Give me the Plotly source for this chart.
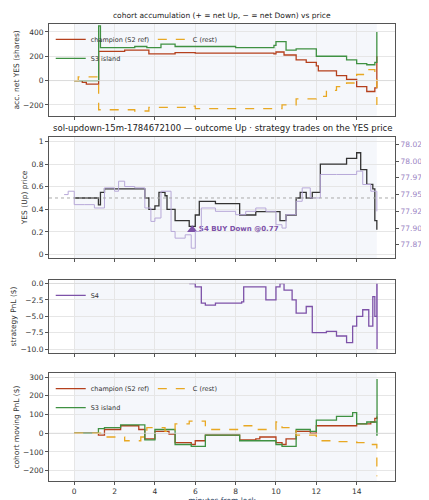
import plotly.graph_objects as go

# ---- data ----
acc_ch_t = [0, 0.4, 0.6, 1.2, 1.21, 2.5, 3.6, 3.7, 5.0, 6.0, 9.9, 10.0, 10.4, 11.0, 11.5, 12.0, 12.1, 13.0, 13.5, 14.0, 14.5, 14.9, 15.0]
acc_ch_v = [0, -15, -30, -30, 240, 250, 250, 220, 230, 225, 220, 235, 210, 170, 150, 120, 80, 40, 10, -50, -90, -60, 200]
acc_s3_t = [0, 1.2, 1.21, 1.3, 3.0, 3.6, 4.3, 5.0, 8.0, 9.9, 10.0, 10.5, 11.0, 12.0, 13.5, 14.0, 14.5, 14.9, 15.0]
acc_s3_v = [0, 0, 450, 270, 280, 270, 300, 280, 270, 290, 320, 250, 260, 200, 170, 140, 130, 150, 400]
acc_c_t = [0, 0.2, 1.2, 1.21, 3.0, 3.7, 5.7, 6.0, 10.3, 11.0, 12.0, 12.5, 13.0, 13.5, 14.0, 14.5, 14.9, 15.0]
acc_c_v = [0, 30, 30, -240, -250, -220, -210, -230, -200, -150, -130, -80, -50, -20, 50, 90, 60, -200]

yes_t = [0, 1.1, 1.2, 1.3, 1.5, 3.0, 3.5, 3.7, 4.0, 4.2, 4.5, 4.6, 5.0, 5.7, 6.0, 6.2, 7.0, 8.2, 8.8, 9.0, 10.0, 10.2, 10.5, 11.0, 11.2, 11.5, 11.8, 12.2, 13.0, 13.5, 14.0, 14.2, 14.5, 14.8, 14.9, 15.0]
yes_v = [0.5, 0.5, 0.44, 0.55, 0.58, 0.58, 0.5, 0.4, 0.43, 0.55, 0.52, 0.4, 0.3, 0.25, 0.35, 0.47, 0.45, 0.35, 0.35, 0.38, 0.38, 0.3, 0.35, 0.5, 0.55, 0.5, 0.55, 0.8, 0.8, 0.85, 0.9, 0.75, 0.62, 0.58, 0.3, 0.22]
sol_t = [-0.5, -0.3, 0, 0.5, 1.0, 1.5, 2.0, 2.2, 2.5, 3.0, 3.5, 3.8, 4.0, 4.3, 4.8, 5.0, 5.5, 5.8, 6.0, 6.3, 7.0, 8.0, 8.5, 9.0, 9.5, 10.0, 10.3, 10.5, 11.0, 11.3, 11.7, 12.2, 13.0, 14.0, 14.3, 14.7, 15.0]
sol_v = [77.95, 77.955, 77.935, 77.935, 77.93, 77.96, 77.955, 77.97, 77.962, 77.96, 77.93, 77.91, 77.915, 77.955, 77.895, 77.885, 77.89, 77.87, 77.895, 77.93, 77.925, 77.92, 77.925, 77.93, 77.925, 77.905, 77.9, 77.92, 77.94, 77.96, 77.945, 77.98, 77.98, 77.985, 77.965, 77.955, 77.925]
trade_t = [5.85]
trade_p = [0.22]
trade_lbl = ["S4 BUY Down @0.77"]

s4_t = [5.7, 6.0, 6.3, 6.5, 7.0, 8.3, 8.4, 9.0, 9.5, 10.0, 10.2, 10.4, 10.8, 11.0, 11.5, 11.8, 12.5, 13.0, 13.5, 13.8, 14.0, 14.3, 14.6, 14.8, 14.9, 15.0, 15.01]
s4_v = [0, -0.5, -3, -3.3, -3, -2.8, -0.5, -0.5, -2.5, -0.5, 0, -1, -2.5, -4.5, -3.5, -7.5, -7.3, -8, -9, -6.5, -5, -4, -6.5, -2, -5, 0, -10]

pnl_ch_t = [0, 1.2, 1.5, 2.3, 3.2, 3.5, 4.0, 4.7, 5.0, 5.8, 6.0, 6.5, 8.2, 9.0, 9.2, 10.0, 10.3, 10.5, 11.0, 11.7, 12.0, 13.0, 14.0, 14.7, 14.9, 15.0]
pnl_ch_v = [0, -10, 20, 40, 20, -30, 10, -5, -50, -60, -40, -10, -35, -30, -20, -50, -60, -30, 10, 0, 40, 40, 50, 60, 80, 90]
pnl_s3_t = [0, 1.2, 1.5, 2.3, 3.5, 4.0, 5.0, 5.8, 6.5, 8.2, 10.0, 10.3, 11.0, 11.7, 12.0, 13.0, 13.8, 14.0, 14.5, 15.0, 15.01]
pnl_s3_v = [0, 25, 30, 45, -35, 20, -60, -70, -10, -40, -60, -70, 20, 10, 70, 90, 110, 50, 60, -10, 290]
pnl_c_t = [0, 1.5, 2.5, 3.3, 3.6, 4.5, 5.0, 5.7, 6.5, 8.0, 8.2, 9.0, 10.0, 10.3, 11.0, 12.0, 13.0, 14.0, 14.7, 15.0]
pnl_c_v = [0, -20, -40, -20, 30, 10, 50, 65, 20, 20, 40, 20, 60, 30, -10, -40, -45, -50, -60, -230]

RUST, GREEN, GOLD, PURPLE, LAV = "#b5401d", "#3f9142", "#e8a823", "#7d52a8", "#b7a8d8"
F = "DejaVu Sans"
fig = go.Figure()

def step(x, y, color, name, xa, ya, legend=None, dash="solid", show=True, width=1.3):
    fig.add_trace(go.Scatter(x=x, y=y, mode="lines", line=dict(color=color, width=width, dash=dash, shape="hv"),
                             name=name, xaxis=xa, yaxis=ya, showlegend=show and legend is not None,
                             legend=legend or "legend"))

step(acc_ch_t, acc_ch_v, RUST, "champion (S2 ref)", "x", "y", "legend")
step(acc_s3_t, acc_s3_v, GREEN, "S3 island", "x", "y", "legend")
step(acc_c_t, acc_c_v, GOLD, "C (rest)", "x", "y", "legend4", dash="dash")

step(sol_t, sol_v, LAV, "SOL", "x2", "y5", None, width=1)
step(yes_t, yes_v, "#333333", "YES", "x2", "y2", None, width=1.3)
fig.add_trace(go.Scatter(x=trade_t, y=trade_p, mode="markers+text", marker=dict(symbol="triangle-up", size=9, color=PURPLE),
                         text=trade_lbl, textposition="middle right", textfont=dict(color=PURPLE, size=7, family=F, weight="bold"),
                         xaxis="x2", yaxis="y2", showlegend=False))

step(s4_t, s4_v, PURPLE, "S4", "x3", "y3", "legend2")

step(pnl_ch_t, pnl_ch_v, RUST, "champion (S2 ref)", "x4", "y4", "legend3")
step(pnl_s3_t, pnl_s3_v, GREEN, "S3 island", "x4", "y4", "legend3")
step(pnl_c_t, pnl_c_v, GOLD, "C (rest)", "x4", "y4", "legend5", dash="dash")

doms = {1: [0.799, 1.0], 2: [0.488, 0.753], 3: [0.28, 0.44], 4: [0.0, 0.236]}
yr = {1: [-290, 465], 2: [-0.03, 1.04], 3: [-10.6, 0.55], 4: [-255, 321]}
ytit = {1: "acc. net YES (shares)", 2: "YES (Up) price", 3: "strategy PnL ($)", 4: "cohort moving PnL ($)"}
ytv = {1: [-200, 0, 200, 400], 2: [0, 0.2, 0.4, 0.6, 0.8, 1.0], 3: [-10, -7.5, -5, -2.5, 0], 4: [-200, -100, 0, 100, 200, 300]}
ax = dict(showline=True, mirror=True, linecolor="#555", linewidth=1, gridcolor="#e6e6e6", zeroline=False, automargin=False,
          ticks="outside", ticklen=3, tickcolor="#555", tickfont=dict(size=7.5, family=F, color="#333"))
lay = {}
for i in range(1, 5):
    s = "" if i == 1 else str(i)
    lay["xaxis" + s] = dict(ax, domain=[0, 1], range=[-1.25, 15.9], anchor="y" + s, tickvals=[0, 2, 4, 6, 8, 10, 12, 14],
                           showticklabels=(i == 4), **({"title": dict(text="minutes from lock", font=dict(size=7.5, family=F), standoff=2)} if i == 4 else {}))
    lay["yaxis" + s] = dict(ax, domain=doms[i], range=yr[i], anchor="x" + s, tickvals=ytv[i],
                           title=dict(text=ytit[i], font=dict(size=7.5, family=F, color="#333"), standoff=2))
    fig.add_shape(type="rect", x0=0, x1=15, y0=yr[i][0], y1=yr[i][1], xref="x" + s, yref="y" + s,
                  fillcolor="#eef1f9", opacity=0.6, line_width=0, layer="below")
lay["yaxis3"]["tickformat"] = ".1f"
lay["yaxis5"] = dict(ax, overlaying="y2", side="right", anchor="x2", range=[77.8554, 78.0361],
                     tickvals=[77.875, 77.9, 77.925, 77.95, 77.975, 78.0, 78.025], tickformat=".3f", showgrid=False,
                     tickfont=dict(size=7.5, family=F, color="#9a84c4"),
                     title=dict(text="SOL/USD (strike dotted = YES 0.5)", font=dict(size=6.5, family=F, color="#9a84c4"), standoff=2))
fig.add_shape(type="line", x0=-1.25, x1=15.9, y0=0.5, y1=0.5, xref="x2", yref="y2", line=dict(color="#aaaaaa", width=1, dash="dot"))
for s in ["", "4", "3"]:
    fig.add_shape(type="line", x0=-1.25, x1=15.9, y0=0, y1=0, xref="x" + s, yref="y" + s, line=dict(color="#d8d8d8", width=0.8))

leg = dict(font=dict(size=6.5, family=F, color="#333"), bgcolor="rgba(255,255,255,0)", tracegroupgap=0,
           xanchor="left", yanchor="top", itemwidth=30)
fig.update_layout(
    width=429, height=500, margin=dict(l=41, r=42, t=16, b=27), paper_bgcolor="white", plot_bgcolor="white",
    font=dict(family=F), **lay,
    legend=dict(leg, x=0.005, y=0.998),
    legend4=dict(leg, x=0.3, y=0.998),
    legend2=dict(leg, x=0.005, y=0.438),
    legend3=dict(leg, x=0.005, y=0.234),
    legend5=dict(leg, x=0.3, y=0.234),
    annotations=[
        dict(text="cohort accumulation (+ = net Up, − = net Down) vs price", x=0.5, y=1.0, xref="paper", yref="paper",
             yanchor="bottom", yshift=2, showarrow=False, font=dict(size=7.5, family=F, color="#222")),
        dict(text="sol-updown-15m-1784672100 — outcome Up · strategy trades on the YES price", x=0.5, y=0.753, xref="paper",
             yref="paper", yanchor="bottom", yshift=2, showarrow=False, font=dict(size=8.5, family=F, color="#222")),
    ],
)
fig.write_html("out.html")
